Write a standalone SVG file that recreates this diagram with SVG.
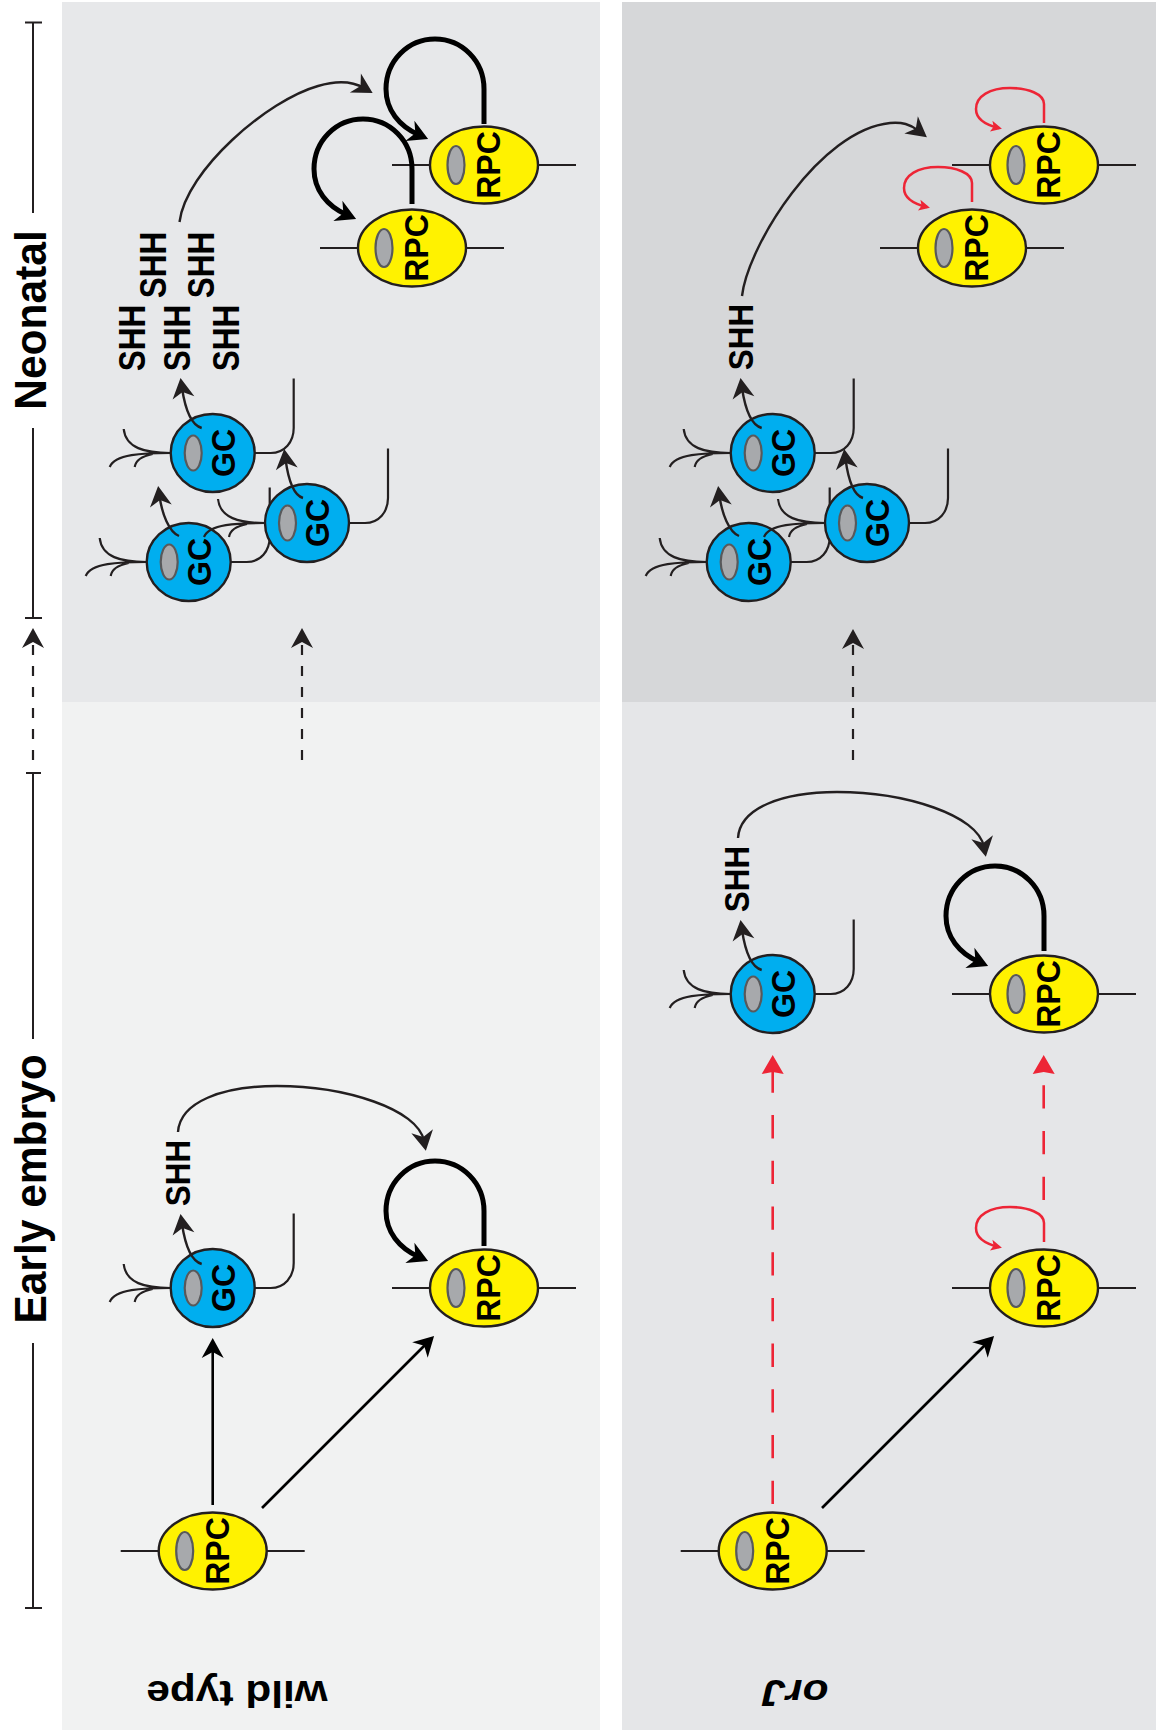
<svg xmlns="http://www.w3.org/2000/svg" xmlns:xlink="http://www.w3.org/1999/xlink" width="1159" height="1732" viewBox="0 0 1159 1732">
  <style>
    .line { fill: none; stroke: #231f20; stroke-width: 2; }
    .wire { fill: none; stroke: #231f20; stroke-width: 2.2; }
    .arc { fill: none; stroke: #231f20; stroke-width: 2.4; marker-end: url(#head-dark); }
    .straight { fill: none; stroke: #000; stroke-width: 2.6; marker-end: url(#head-black); }
    .dash { fill: none; stroke: #231f20; stroke-width: 2.2; stroke-dasharray: 10 11; marker-end: url(#head-dark); }
    .reddash { fill: none; stroke: #ed2536; stroke-width: 2.6; stroke-dasharray: 23.3 22.4; marker-end: url(#head-red); }
    .rpc { fill: #fff200; stroke: #231f20; stroke-width: 2.4; }
    .gc { fill: #00aeef; stroke: #231f20; stroke-width: 2.4; }
    .nucleus { fill: #a7a9ac; stroke: #58595b; stroke-width: 2.2; }
    text { font-family: "Liberation Sans", Arial, sans-serif; font-weight: bold; fill: #000; text-anchor: middle; }
    .cell { font-size: 32px; }
    .shh { font-size: 31.5px; }
    .stage { font-size: 42.5px; }
    .genotype { font-size: 37.5px; }
  </style>
  <defs>
    <marker id="head-dark" markerUnits="userSpaceOnUse" markerWidth="40" markerHeight="40" refX="20" refY="20" orient="auto" viewBox="0 0 40 40" overflow="visible">
      <path d="M30 20 L10 9 L16 20 L10 31 Z" fill="#231f20"/>
    </marker>
    <marker id="head-black" markerUnits="userSpaceOnUse" markerWidth="40" markerHeight="40" refX="20" refY="20" orient="auto" viewBox="0 0 40 40" overflow="visible">
      <path d="M30 20 L10 9 L16 20 L10 31 Z" fill="#000"/>
    </marker>
    <marker id="head-red" markerUnits="userSpaceOnUse" markerWidth="40" markerHeight="40" refX="20" refY="20" orient="auto" viewBox="0 0 40 40" overflow="visible">
      <path d="M30 20 L11 9 L13 20 L11 31 Z" fill="#ed2536"/>
    </marker>
    <marker id="head-red-small" markerUnits="userSpaceOnUse" markerWidth="20" markerHeight="20" refX="10" refY="10" orient="auto" viewBox="0 0 20 20" overflow="visible">
      <path d="M13 10 L2 4.5 L4.5 10 L2 15.5 Z" fill="#ed2536"/>
    </marker>
    <path id="loop-thick" d="M0 -44 V-79 C0 -107 -22 -129 -49 -129 C-76 -129 -98 -107 -98 -79 C-98 -58 -85 -42 -65 -33" fill="none" stroke="#000" stroke-width="5" marker-end="url(#head-black)"/>
    <path id="loop-red" d="M0 0 V-19 C0 -29 -16 -35 -34 -35 C-54 -35 -68 -27 -68 -14 C-68 -4 -58 2 -45 5" fill="none" stroke="#ed2536" stroke-width="2.5" marker-end="url(#head-red-small)"/>
    <g id="rpc-body">
      <path class="wire" d="M-92 0 H-54 M54 0 H92"/>
      <ellipse class="rpc" rx="54" ry="38.5"/>
      <ellipse class="nucleus" cx="-28" rx="8.5" ry="19"/>
    </g>
    <g id="gc-body">
      <path class="wire" d="M42 0 H58 C72 0 81 -11 81 -25 V-74.5"/>
      <path class="wire" d="M-42 0 C-68 0 -87 -5 -89 -24 M-42 0 C-70 0 -98 1 -103 14 M-60 1 C-70 3 -77 7 -78 14"/>
      <ellipse class="gc" rx="42" ry="39"/>
      <ellipse class="nucleus" cx="-19.5" rx="8.5" ry="17.5"/>
    </g>
  </defs>

  <!-- Background panels -->
  <g id="panels">
    <rect x="62" y="2" width="538" height="700" fill="#e7e8ea"/>
    <rect x="62" y="702" width="538" height="1028" fill="#f1f2f2"/>
    <rect x="622" y="2" width="534" height="700" fill="#d6d7d9"/>
    <rect x="622" y="702" width="534" height="1028" fill="#e5e6e8"/>
  </g>

  <!-- Time axis -->
  <g id="timeline">
    <path class="line" d="M25 22.5 H42 M33 22.5 V213 M33 428 V618 M25 618 H42 M26 773 H41 M33 773 V1039 M33 1343 V1608 M25 1608 H42"/>
    <path class="dash" d="M33 760 V638"/>
    <text class="stage" transform="translate(46 320) scale(1.04 1) rotate(-90)">Neonatal</text>
    <text class="stage" transform="translate(46 1189) scale(1.04 1) rotate(-90)">Early embryo</text>
  </g>

  <!-- Genotype labels -->
  <text id="label-wild-type" class="genotype" transform="translate(237 1681) scale(1.13 1) rotate(180)">wild type</text>
  <text id="label-orj" class="genotype" font-style="italic" transform="translate(795.5 1680) scale(1.13 1) rotate(180)">orJ</text>

  <!-- Wild type, neonatal -->
  <g id="wt-neo-gc-a" transform="translate(212.7 453)"><use href="#gc-body"/><text class="cell" transform="translate(22 0) scale(1.06 1) rotate(-90)">GC</text></g>
  <g id="wt-neo-gc-c" transform="translate(188.7 562)"><use href="#gc-body"/><text class="cell" transform="translate(22 0) scale(1.06 1) rotate(-90)">GC</text></g>
  <g id="wt-neo-gc-b" transform="translate(307 523)"><use href="#gc-body"/><text class="cell" transform="translate(22 0) scale(1.06 1) rotate(-90)">GC</text></g>
  <g id="wt-neo-rpc-a" transform="translate(484 165)"><use href="#rpc-body"/><text class="cell" transform="translate(16 0) scale(1.06 1) rotate(-90)">RPC</text></g>
  <g id="wt-neo-rpc-b" transform="translate(412 248)"><use href="#rpc-body"/><text class="cell" transform="translate(16 0) scale(1.06 1) rotate(-90)">RPC</text></g>

  <!-- Wild type, early embryo -->
  <g id="wt-early-gc" transform="translate(212.7 1288)"><use href="#gc-body"/><text class="cell" transform="translate(22 0) scale(1.06 1) rotate(-90)">GC</text></g>
  <g id="wt-early-rpc-a" transform="translate(484 1288)"><use href="#rpc-body"/><text class="cell" transform="translate(16 0) scale(1.06 1) rotate(-90)">RPC</text></g>
  <g id="wt-early-rpc-b" transform="translate(212.7 1551)"><use href="#rpc-body"/><text class="cell" transform="translate(16 0) scale(1.06 1) rotate(-90)">RPC</text></g>

  <!-- orJ, neonatal -->
  <g id="orj-neo-gc-a" transform="translate(772.7 453)"><use href="#gc-body"/><text class="cell" transform="translate(22 0) scale(1.06 1) rotate(-90)">GC</text></g>
  <g id="orj-neo-gc-c" transform="translate(748.7 562)"><use href="#gc-body"/><text class="cell" transform="translate(22 0) scale(1.06 1) rotate(-90)">GC</text></g>
  <g id="orj-neo-gc-b" transform="translate(867 523)"><use href="#gc-body"/><text class="cell" transform="translate(22 0) scale(1.06 1) rotate(-90)">GC</text></g>
  <g id="orj-neo-rpc-a" transform="translate(1044 165)"><use href="#rpc-body"/><text class="cell" transform="translate(16 0) scale(1.06 1) rotate(-90)">RPC</text></g>
  <g id="orj-neo-rpc-b" transform="translate(972 248)"><use href="#rpc-body"/><text class="cell" transform="translate(16 0) scale(1.06 1) rotate(-90)">RPC</text></g>

  <!-- orJ, early embryo -->
  <g id="orj-early-gc" transform="translate(772.7 994)"><use href="#gc-body"/><text class="cell" transform="translate(22 0) scale(1.06 1) rotate(-90)">GC</text></g>
  <g id="orj-early-rpc-a" transform="translate(1044 994)"><use href="#rpc-body"/><text class="cell" transform="translate(16 0) scale(1.06 1) rotate(-90)">RPC</text></g>
  <g id="orj-early-rpc-b" transform="translate(1044 1288)"><use href="#rpc-body"/><text class="cell" transform="translate(16 0) scale(1.06 1) rotate(-90)">RPC</text></g>
  <g id="orj-early-rpc-c" transform="translate(772.7 1551)"><use href="#rpc-body"/><text class="cell" transform="translate(16 0) scale(1.06 1) rotate(-90)">RPC</text></g>

  <!-- Secreted SHH labels -->
  <g id="shh-labels">
    <text class="shh" transform="translate(145 338) scale(1.2 1) rotate(-90)">SHH</text>
    <text class="shh" transform="translate(166 265) scale(1.2 1) rotate(-90)">SHH</text>
    <text class="shh" transform="translate(190 338) scale(1.2 1) rotate(-90)">SHH</text>
    <text class="shh" transform="translate(214 265) scale(1.2 1) rotate(-90)">SHH</text>
    <text class="shh" transform="translate(239 338) scale(1.2 1) rotate(-90)">SHH</text>
    <text class="shh" transform="translate(190 1173) scale(1.13 1) rotate(-90)">SHH</text>
    <text class="shh" transform="translate(753 337) scale(1.13 1) rotate(-90)">SHH</text>
    <text class="shh" transform="translate(749 879) scale(1.13 1) rotate(-90)">SHH</text>
  </g>

  <!-- Connectors -->
  <g id="connectors">
    <path class="dash" d="M302 760 V638"/>
    <path class="dash" d="M853 760 V639"/>

    <path class="arc" d="M201.7 428 C191 425 185 408 182 388"/>
    <path class="arc" d="M179 536 C169 532 162 514 159.5 496"/>
    <path class="arc" d="M303 498 C293 495 288 478 285.5 459"/>
    <path class="arc" d="M761.7 428 C751 425 745 408 742 388"/>
    <path class="arc" d="M739 536 C729 532 722 514 719.5 496"/>
    <path class="arc" d="M863 498 C853 495 848 478 845.5 459"/>
    <path class="arc" d="M201.7 1264 C191 1261 185 1244 182 1224"/>
    <path class="arc" d="M761.7 970 C751 967 745 950 742 930"/>

    <path class="arc" d="M179.5 222 C186 170 268 100 318 86 C338 80 352 81 364 88"/>
    <path class="arc" d="M742 296 C748 245 820 130 890 123 C902 122 910 124 919 131"/>
    <path class="arc" d="M178 1132 C180 1102 222 1086 277 1086 C345 1086 418 1109 424 1141"/>
    <path class="arc" d="M738 838 C740 808 782 792 837 792 C905 792 978 815 984 847"/>

    <use href="#loop-thick" transform="translate(484 168)"/>
    <use href="#loop-thick" transform="translate(412 248)"/>
    <use href="#loop-thick" transform="translate(484 1290)"/>
    <use href="#loop-thick" transform="translate(1044 995)"/>

    <use href="#loop-red" transform="translate(1044 123)"/>
    <use href="#loop-red" transform="translate(972 202)"/>
    <use href="#loop-red" transform="translate(1044 1242)"/>

    <path class="straight" d="M212.7 1505 V1348"/>
    <path class="straight" d="M262 1508 L427 1343"/>
    <path class="straight" d="M822 1508 L987 1343"/>

    <path class="reddash" d="M772.7 1504 V1065"/>
    <path class="reddash" d="M1043.7 1200 V1065"/>
  </g>
</svg>
